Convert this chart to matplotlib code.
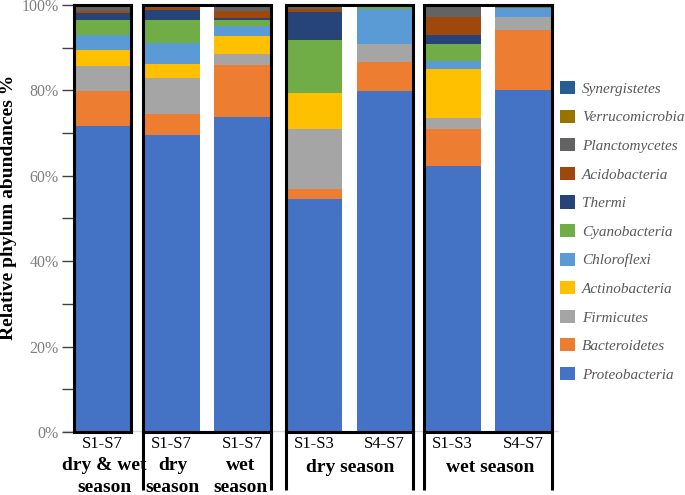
import numpy as np
import matplotlib
matplotlib.use('Agg')
from matplotlib import pyplot as plt
from matplotlib.patches import Patch
from matplotlib.lines import Line2D
from matplotlib.font_manager import FontProperties

# bar order: all, dry(all), wet(all), dry S1-S3, dry S4-S7, wet S1-S3, wet S4-S7
phyla = ['Proteobacteria', 'Bacteroidetes', 'Firmicutes', 'Actinobacteria', 'Chloroflexi',
         'Cyanobacteria', 'Thermi', 'Acidobacteria', 'Planctomycetes', 'Verrucomicrobia', 'Synergistetes']
proteobacteria = [71.6, 69.6, 73.7, 54.6, 79.8, 62.3, 80.0]
bacteroidetes = [8.2, 4.9, 12.2, 2.4, 6.8, 8.7, 14.2]
firmicutes = [5.9, 8.4, 2.7, 14.0, 4.3, 2.6, 2.9]
actinobacteria = [3.8, 3.3, 4.2, 8.4, 0.0, 11.5, 0.0]
chloroflexi = [3.4, 5.0, 2.2, 0.1, 8.2, 1.9, 2.3]
cyanobacteria = [3.5, 5.2, 1.4, 12.2, 0.9, 3.8, 0.0]
thermi = [1.7, 2.5, 0.5, 6.6, 0.0, 2.1, 0.0]
acidobacteria = [0.6, 0.4, 1.7, 0.8, 0.0, 4.3, 0.0]
planctomycetes = [0.8, 0.3, 0.9, 0.9, 0.0, 2.6, 0.0]
verrucomicrobia = [0.4, 0.2, 0.5, 0.0, 0.0, 0.2, 0.6]
synergistetes = [0.1, 0.2, 0.0, 0.0, 0.0, 0.0, 0.0]
values = [proteobacteria, bacteroidetes, firmicutes, actinobacteria, chloroflexi, cyanobacteria,
          thermi, acidobacteria, planctomycetes, verrucomicrobia, synergistetes]
colors = ['#4472C4', '#ED7D31', '#A5A5A5', '#FFC000', '#5B9BD5', '#70AD47',
          '#264478', '#9E480E', '#636363', '#997300', '#255E91']

sample_labels = ['S1-S7', 'S1-S7', 'S1-S7', 'S1-S3', 'S4-S7', 'S1-S3', 'S4-S7']
groups = [[0], [1, 2], [3, 4], [5, 6]]

plt.rcParams['font.family'] = ['Liberation Serif', 'DejaVu Serif']

W, H = 685, 495
fig = plt.figure(figsize=(W / 100, H / 100), dpi=100)

def fx(px):
    return px / W

def fy(px):
    return 1 - px / H

top_px, bot_px = 5, 432
panels_px = [(74, 131), (143, 271), (286, 413), (424, 552)]

# light grey baseline behind the panels
fig.add_artist(Line2D([fx(63), fx(558)], [fy(431), fy(431)], color='#d9d9d9', lw=1, zorder=0))

axes = []
for gi, (l, r) in enumerate(panels_px):
    ax = fig.add_axes([fx(l), fy(bot_px), (r - l) / W, (bot_px - top_px) / H])
    idx = groups[gi]
    x = np.arange(len(idx))
    bottom = np.zeros(len(idx))
    for vals, c in zip(values, colors):
        v = np.array([vals[i] for i in idx])
        ax.bar(x, v, 0.8, bottom=bottom, color=c, linewidth=0)
        bottom += v
    ax.set_xlim(-0.4, len(idx) - 0.6)
    ax.set_ylim(0, 100)
    for s in ax.spines.values():
        s.set_linewidth(2.2)
        s.set_color('black')
    ax.set_xticks(x)
    ax.set_xticklabels([sample_labels[i] for i in idx], fontsize=12)
    ax.tick_params(axis='x', length=0, pad=3)
    if gi == 0:
        ax.set_yticks(np.arange(0, 101, 20))
        ax.set_yticks(np.arange(10, 100, 20), minor=True)
        ax.set_yticklabels(['{0}%'.format(v) for v in range(0, 101, 20)], fontsize=11.5, color='#808080')
        ax.tick_params(axis='y', which='both', length=9, width=1, color='#404040', pad=2)
    else:
        ax.set_yticks([])
        # separators below the panel
        for xx in (0, 1):
            ax.plot([xx, xx], [0, -0.135], transform=ax.transAxes, color='black', lw=2.2,
                    clip_on=False, solid_capstyle='butt')
    axes.append(ax)

bold = dict(fontsize=14, fontweight='bold', ha='center', va='center')
fig.text(fx(104), fy(466), 'dry & wet', **bold)
fig.text(fx(104), fy(488), 'season', **bold)
fig.text(fx(173), fy(466), 'dry', **bold)
fig.text(fx(173), fy(488), 'season', **bold)
fig.text(fx(241), fy(466), 'wet', **bold)
fig.text(fx(241), fy(488), 'season', **bold)
fig.text(fx(350), fy(468), 'dry season', **bold)
fig.text(fx(490), fy(468), 'wet season', **bold)

fig.text(fx(9), fy(207), 'Relative phylum abundances %', rotation=90, fontsize=14,
         fontweight='bold', ha='center', va='center')

legend_font = FontProperties(family='Liberation Serif', style='italic', size=11)
handles = [Patch(facecolor=c, edgecolor='none') for c in colors][::-1]
fig.legend(handles, phyla[::-1], loc='upper left', bbox_to_anchor=(fx(560), fy(81)),
           frameon=False, prop=legend_font, labelcolor='#595959',
           handlelength=0.95, handleheight=0.95, handletextpad=0.5, labelspacing=0.9,
           borderpad=0, borderaxespad=0)

fig.savefig('out.png', dpi=100)
